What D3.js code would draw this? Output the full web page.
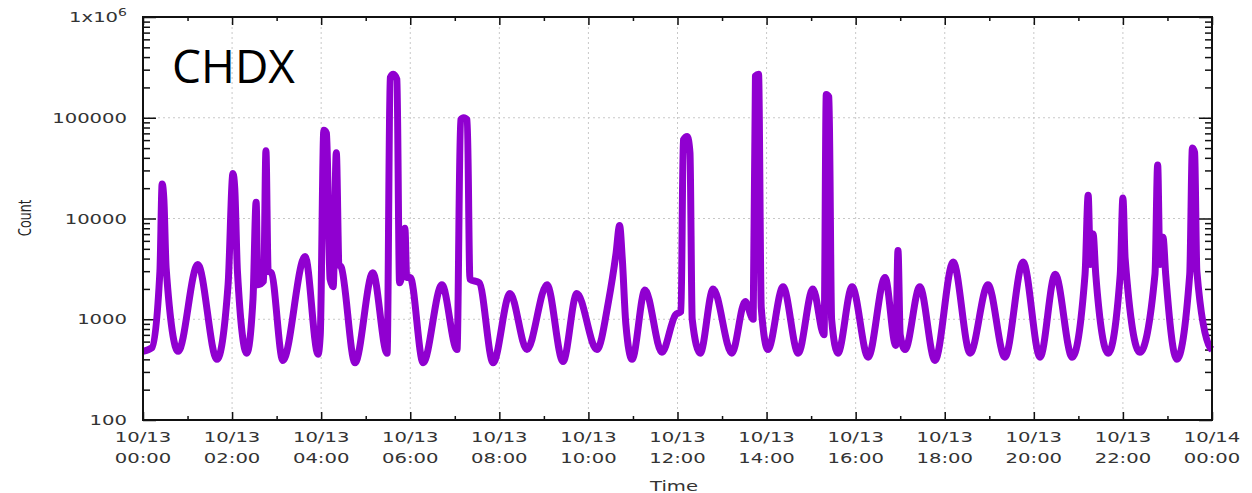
<!DOCTYPE html>
<html>
<head>
<meta charset="utf-8">
<script src="https://cdn.jsdelivr.net/npm/d3@7"></script>
<style>
  body { margin: 0; background: #fff; }
  svg { display: block; }
</style>
</head>
<body>
<script>
// Drawing area
const w = 1252;
const h = 493;

// Plot box (gnuplot style frame)
const plotLeft = 143;
const plotRight = 1212;
const plotTop = 17;
const plotBottom = 420;

// the source picture is stretched sideways, so text is too
const stretch = 1.4;

// Hours after 10/13 00:00
const hours = [0, 0.2, 0.38, 0.43, 0.47, 0.52, 0.79, 1.23, 1.66, 1.91, 2.02, 2.06, 2.12, 2.33, 2.47, 2.54, 2.58, 2.71, 2.76, 2.81, 2.88,
  3.14, 3.64, 3.93, 3.98, 4.06, 4.12, 4.20, 4.27, 4.34, 4.40, 4.45, 4.76, 5.16, 5.48, 5.55, 5.62, 5.70, 5.76, 5.82, 5.88, 5.92, 6.00,
  6.29, 6.71, 7.05, 7.13, 7.20, 7.28, 7.34, 7.55, 7.86, 8.24, 8.62, 9.07, 9.43, 9.74, 10.19, 10.45, 10.62, 10.70, 10.76, 10.84, 10.98,
  11.27, 11.65, 11.95, 12.08, 12.13, 12.22, 12.28, 12.33, 12.51, 12.80, 13.22, 13.52, 13.70, 13.75, 13.82, 13.88, 14.03, 14.37, 14.71,
  15.04, 15.29, 15.34, 15.40, 15.46, 15.60, 15.92, 16.28, 16.66, 16.90, 16.95, 17.00, 17.11, 17.44, 17.78, 18.19, 18.57, 18.97, 19.35,
  19.76, 20.14, 20.48, 20.86, 21.15, 21.22, 21.27, 21.33, 21.39, 21.67, 21.94, 22.00, 22.05, 22.38, 22.72, 22.78, 22.83, 22.90, 22.96,
  23.21, 23.50, 23.56, 23.61, 23.66, 23.96, 24.0];

// Counts at those hours
const counts = [480, 520, 3000, 22000, 15000, 3200, 480, 3500, 400, 2200, 28000, 20000, 3000, 460, 1600, 14500, 2200, 2400, 47000, 3000, 2900,
  390, 4200, 450, 700, 75000, 70000, 2500, 2100, 45000, 3500, 3300, 370, 2900, 460, 250000, 270000, 240000, 2300, 3000, 8000, 2600, 2600,
  370, 2200, 500, 95000, 100000, 95000, 2500, 2300, 370, 1800, 500, 2200, 380, 1800, 500, 1500, 4500, 8500, 4000, 900, 400,
  1950, 470, 1100, 1200, 60000, 65000, 45000, 1000, 460, 2000, 460, 1500, 1000, 260000, 270000, 1300, 500, 2100, 460,
  2000, 700, 170000, 160000, 1000, 460, 2100, 420, 2600, 550, 4800, 700, 500, 2100, 390, 3700, 460, 2200, 420,
  3700, 420, 2800, 420, 2800, 17000, 3500, 7000, 2800, 460, 2800, 16000, 4000, 470, 2800, 34000, 3500, 6500, 2800,
  400, 2800, 50000, 45000, 3000, 520, 500];

// Axis ticks
const yTickValues = [100, 1000, 10000, 100000, 1000000];
const yTickLabels = ["100", "1000", "10000", "100000", "1x10^6"];
const xTickHours = [0, 2, 4, 6, 8, 10, 12, 14, 16, 18, 20, 22, 24];

const start = new Date(2013, 9, 13, 0, 0);
const toDate = hr => new Date(start.getTime() + hr * 3600e3);

const data = hours.map((hr, i) => ({ t: toDate(hr), v: counts[i] }));

const svg = d3.select("body").append("svg").attr("width", w).attr("height", h);

// Scales
const xScale = d3.scaleTime().domain([toDate(0), toDate(24)]).range([plotLeft, plotRight]);
const yScale = d3.scaleLog().domain([100, 1e6]).range([plotBottom, plotTop]);

// Dotted grid
const grid = svg.append("g").attr("stroke", "#c8c8c8").attr("stroke-dasharray", "2,3").attr("stroke-width", 1);
grid.selectAll("line.gx")
  .data(xTickHours.slice(1, -1))
  .enter().append("line")
  .attr("x1", d => xScale(toDate(d))).attr("x2", d => xScale(toDate(d)))
  .attr("y1", plotTop).attr("y2", plotBottom);
grid.selectAll("line.gy")
  .data(yTickValues.slice(1, -1))
  .enter().append("line")
  .attr("x1", plotLeft).attr("x2", plotRight)
  .attr("y1", d => yScale(d)).attr("y2", d => yScale(d));

// Axes with ticks pointing inward, mirrored on top and right
const xMajor = d3.axisBottom(xScale).tickValues(xTickHours.map(toDate)).tickSize(-8).tickFormat("");
const xMinor = d3.axisBottom(xScale).tickValues(d3.range(1, 24, 2).map(toDate)).tickSize(-4).tickFormat("");
const yMinorVals = yScale.ticks().filter(d => !yTickValues.includes(d));
const yMajor = d3.axisLeft(yScale).tickValues(yTickValues).tickSize(-13).tickFormat("");
const yMinor = d3.axisLeft(yScale).tickValues(yMinorVals).tickSize(-7).tickFormat("");

function addAxis(axis, tx, ty, flip) {
  const g = svg.append("g").attr("transform", "translate(" + tx + "," + ty + ")").call(axis);
  g.select(".domain").remove();
  g.selectAll(".tick line").attr("stroke", "#111").attr("stroke-width", 1.5);
  if (flip) g.selectAll(".tick line").attr("transform", flip);
  return g;
}
addAxis(xMajor, 0, plotBottom);
addAxis(xMinor, 0, plotBottom);
addAxis(xMajor, 0, plotTop, "scale(1,-1)");
addAxis(xMinor, 0, plotTop, "scale(1,-1)");
addAxis(yMajor, plotLeft, 0);
addAxis(yMinor, plotLeft, 0);
addAxis(yMajor, plotRight, 0, "scale(-1,1)");
addAxis(yMinor, plotRight, 0, "scale(-1,1)");

// The series
const line = d3.line()
  .x(d => xScale(d.t))
  .y(d => yScale(d.v))
  .curve(d3.curveMonotoneX);

svg.append("path")
  .datum(data)
  .attr("fill", "none")
  .attr("stroke", "#9000d0")
  .attr("stroke-width", 7)
  .attr("stroke-linejoin", "round")
  .attr("d", line);

// Frame
svg.append("rect")
  .attr("x", plotLeft).attr("y", plotTop)
  .attr("width", plotRight - plotLeft).attr("height", plotBottom - plotTop)
  .attr("fill", "none").attr("stroke", "#111").attr("stroke-width", 2);

// Y tick labels
const labelFont = "'DejaVu Sans', sans-serif";
yTickValues.forEach((v, i) => {
  const t = svg.append("text")
    .attr("transform", "translate(" + (plotLeft - 16) + "," + (yScale(v) + 5) + ") scale(" + stretch + ",1)")
    .attr("text-anchor", "end")
    .attr("font-family", labelFont)
    .attr("font-size", 14)
    .attr("fill", "#333");
  const parts = yTickLabels[i].split("^");
  t.append("tspan").text(parts[0]);
  if (parts[1]) t.append("tspan").attr("dy", -6).attr("font-size", 10).text(parts[1]);
});

// X tick labels, date over time
const fmtDay = d3.timeFormat("%m/%d");
const fmtTime = d3.timeFormat("%H:%M");
xTickHours.forEach(hr => {
  const d = toDate(hr);
  const g = svg.append("g")
    .attr("transform", "translate(" + xScale(d) + ",0) scale(" + stretch + ",1)")
    .attr("font-family", labelFont)
    .attr("font-size", 14)
    .attr("fill", "#333")
    .attr("text-anchor", "middle");
  g.append("text").attr("y", 442).text(fmtDay(d));
  g.append("text").attr("y", 463).text(fmtTime(d));
});

// Axis titles
svg.append("text")
  .attr("transform", "translate(674,491) scale(" + stretch + ",1)")
  .attr("text-anchor", "middle")
  .attr("font-family", labelFont)
  .attr("font-size", 14)
  .attr("fill", "#333")
  .text("Time");

svg.append("text")
  .attr("transform", "translate(31,218) scale(" + stretch + ",1) rotate(-90)")
  .attr("text-anchor", "middle")
  .attr("font-family", "'Open Sans', sans-serif")
  .attr("font-size", 13)
  .attr("fill", "#222")
  .text("Count");

// Chart label
svg.append("text")
  .attr("x", 172).attr("y", 83)
  .attr("font-family", "'Open Sans', sans-serif")
  .attr("font-size", 46)
  .attr("fill", "#000")
  .text("CHDX");
</script>
</body>
</html>
